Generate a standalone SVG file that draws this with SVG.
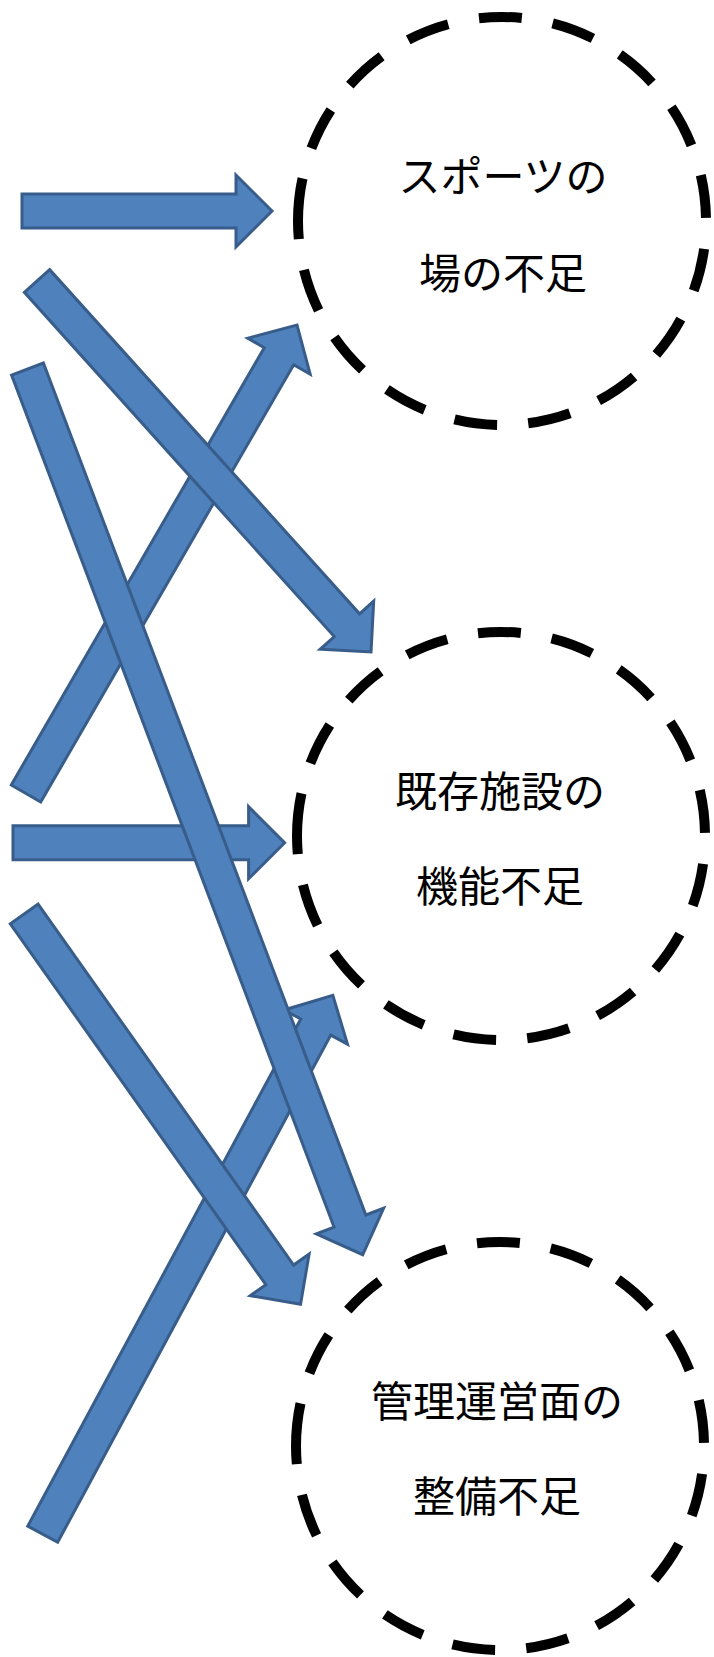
<svg xmlns="http://www.w3.org/2000/svg" width="714" height="1657" viewBox="0 0 714 1657">
  <style>
    .arrow { fill: #4F81BD; stroke: #385D8A; stroke-width: 3; stroke-linejoin: miter; }
    .ring { fill: none; stroke: #000000; stroke-width: 10; stroke-dasharray: 43 31.3; stroke-linecap: butt; }
    .label { font-family: "Noto Sans CJK JP", "Noto Sans", sans-serif; font-size: 42px; fill: #000000; text-anchor: middle; dominant-baseline: central; }
  </style>
  <rect width="714" height="1657" fill="#FFFFFF"/>
  <g id="connectors">
    <polygon id="arrow1" class="arrow" points="22,194 236,194 236,175 272,211 236,247 236,228 22,228"/>
    <polygon id="arrow5" class="arrow" points="13,825.7 248.6,825.7 248.6,806.7 284.6,842.7 248.6,878.7 248.6,859.7 13,859.7"/>
    <polygon id="arrow3" class="arrow" transform="translate(26 793.5) rotate(-59.95)" points="0,-17 505.2,-17 505.2,-36 541.2,0 505.2,36 505.2,17 0,17"/>
    <polygon id="arrow2" class="arrow" transform="translate(37 281) rotate(48)" points="0,-17 463.2,-17 463.2,-36 499.2,0 463.2,36 463.2,17 0,17"/>
    <polygon id="arrow7" class="arrow" transform="translate(42.7 1534.2) rotate(-61.7)" points="0,-17 576,-17 576,-36 612,0 576,36 576,17 0,17"/>
    <polygon id="arrow6" class="arrow" transform="translate(24.2 914) rotate(54.7)" points="0,-17 442.2,-17 442.2,-36 478.2,0 442.2,36 442.2,17 0,17"/>
    <polygon id="arrow4" class="arrow" transform="translate(27.5 369) rotate(69.27)" points="0,-17 911,-17 911,-36 947,0 911,36 911,17 0,17"/>
  </g>
  <g id="node1">
    <path class="ring" d="M 298 221 A 204 204 0 1 1 706 221 A 204 204 0 1 1 298 221"/>
    <text class="label" x="503" y="173.5">スポーツの</text>
    <text class="label" x="503" y="270">場の不足</text>
  </g>
  <g id="node2">
    <path class="ring" d="M 297 836 A 204 204 0 1 1 705 836 A 204 204 0 1 1 297 836"/>
    <text class="label" x="500" y="788.5">既存施設の</text>
    <text class="label" x="500" y="883.5">機能不足</text>
  </g>
  <g id="node3">
    <path class="ring" d="M 296 1446 A 204 204 0 1 1 704 1446 A 204 204 0 1 1 296 1446"/>
    <text class="label" x="497" y="1398">管理運営面の</text>
    <text class="label" x="497" y="1493.5">整備不足</text>
  </g>
</svg>
